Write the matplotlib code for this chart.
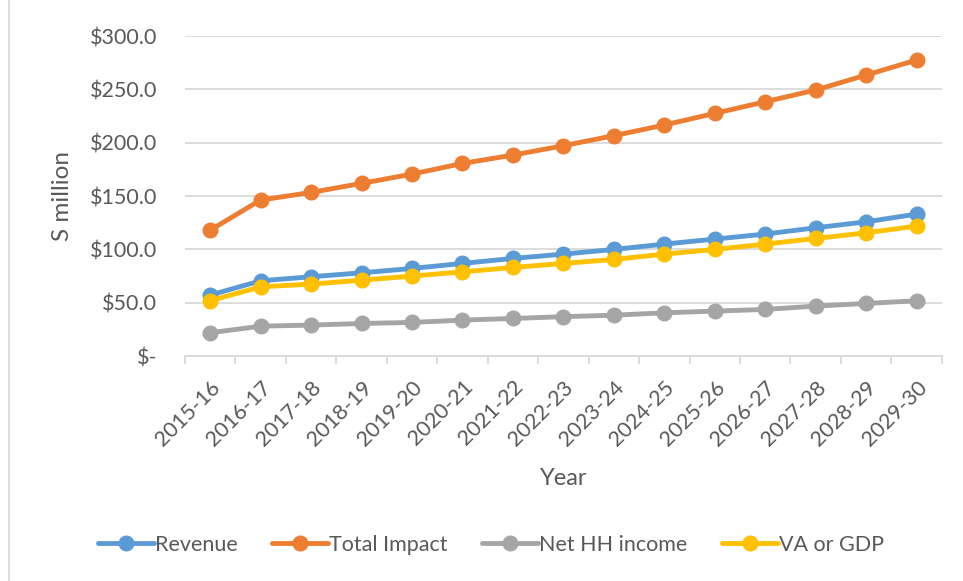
import matplotlib
matplotlib.use("Agg")
import matplotlib.pyplot as plt
from matplotlib.ticker import FuncFormatter, FixedLocator
from matplotlib.lines import Line2D

plt.rcParams['font.family'] = ['Lato', 'DejaVu Sans']

years = ["2015-16", "2016-17", "2017-18", "2018-19", "2019-20", "2020-21", "2021-22",
         "2022-23", "2023-24", "2024-25", "2025-26", "2026-27", "2027-28", "2028-29", "2029-30"]
revenue = [57.2, 70.6, 74.4, 78.1, 82.2, 86.9, 91.6, 95.6, 100.0, 105.0, 109.7, 114.4, 120.3, 125.9, 133.1]
total_impact = [118.0, 146.3, 153.4, 161.9, 170.6, 180.6, 188.4, 197.2, 206.6, 216.6, 227.5, 238.4, 249.4, 263.4, 277.5]
net_hh_income = [21.9, 28.1, 29.1, 30.6, 31.6, 33.8, 35.3, 37.0, 38.4, 40.6, 42.2, 43.8, 46.9, 49.4, 51.9]
va_gdp = [51.9, 65.0, 67.5, 71.2, 75.0, 79.0, 83.1, 86.9, 90.6, 95.6, 100.0, 105.0, 110.3, 115.6, 121.9]
yticks = [0, 50, 100, 150, 200, 250, 300]

series = [
    ("Revenue", revenue, "#5B9BD5"),
    ("Total Impact", total_impact, "#ED7D31"),
    ("Net HH income", net_hh_income, "#A5A5A5"),
    ("VA or GDP", va_gdp, "#FFC000"),
]

text_color = "#595959"
grid_color = "#D9D9D9"

fig = plt.figure(figsize=(9.63, 5.81), dpi=100)
ax = fig.add_axes([0.192, 0.387, 0.786, 0.551])

x = list(range(len(years)))
handles = []
for name, vals, col in series:
    ln, = ax.plot(x, vals, color=col, lw=3.5, marker='o', markersize=10.5,
                  solid_capstyle='round', zorder=3, label=name)
    handles.append(ln)

ax.set_xlim(-0.5, len(years) - 0.5)
ax.set_ylim(0, 300)
ax.yaxis.set_major_locator(FixedLocator(yticks))
ax.yaxis.set_major_formatter(FuncFormatter(lambda v, p: "$-" if v == 0 else f"${v:.1f}"))
ax.grid(axis='y', color=grid_color, lw=1.3, zorder=0)
ax.set_axisbelow(True)

for s in ['top', 'right', 'left']:
    ax.spines[s].set_visible(False)
ax.spines['bottom'].set_color(grid_color)
ax.spines['bottom'].set_linewidth(1.3)

ax.set_xticks(x)
ax.set_xticklabels(years, rotation=45, ha='right', rotation_mode='anchor')
ax.tick_params(axis='x', which='major', length=0, pad=15, labelsize=15.5, labelcolor=text_color)
ax.set_xticks([i - 0.5 for i in range(len(years) + 1)], minor=True)
ax.tick_params(axis='x', which='minor', length=6, width=1.3, color=grid_color)
ax.tick_params(axis='y', length=0, pad=20, labelsize=15.5, labelcolor=text_color)

ax.set_xlabel("Year", fontsize=17, color=text_color, labelpad=13)
ax.set_ylabel("S million", fontsize=17.5, color=text_color, labelpad=12)

fig.legend(handles=handles, loc='center', bbox_to_anchor=(0.51, 0.062), ncol=4,
           frameon=False, fontsize=15.5, labelcolor=text_color, handlelength=2.6,
           handletextpad=0.05, columnspacing=1.6)

fig.add_artist(Line2D([0.009, 0.009], [0.0, 1.0], color=grid_color, lw=1.3,
                      transform=fig.transFigure))

fig.savefig("out.png", dpi=100)
